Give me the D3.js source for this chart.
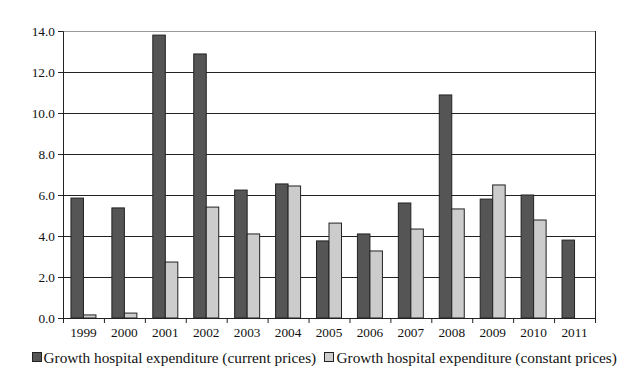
<!DOCTYPE html>
<html>
<head>
<meta charset="utf-8">
<script src="https://cdn.jsdelivr.net/npm/d3@7"></script>
<style>
  body { margin: 0; background: #fff; }
  svg, svg text { font-family: "Liberation Serif", "Times New Roman", serif; }
</style>
</head>
<body>
<div id="chart"></div>
<script>
// growth of hospital expenditure, per year
const years = ["1999", "2000", "2001", "2002", "2003", "2004", "2005", "2006", "2007", "2008", "2009", "2010", "2011"];
const currentPrices = [5.85, 5.37, 13.8, 12.88, 6.24, 6.54, 3.76, 4.1, 5.61, 10.88, 5.8, 6.0, 3.8];
const constantPrices = [0.15, 0.24, 2.73, 5.41, 4.1, 6.44, 4.63, 3.27, 4.34, 5.32, 6.49, 4.78, null];
const yTicks = [0, 2, 4, 6, 8, 10, 12, 14];
const seriesNames = ["Growth hospital expenditure (current prices)", "Growth hospital expenditure (constant prices)"];

const W = 626, H = 375;
const margin = { top: 31, right: 31, bottom: 57, left: 63 };
const width = W - margin.left - margin.right;
const height = H - margin.top - margin.bottom;
const FONT = "'Liberation Serif', 'Times New Roman', serif";

const svg = d3.select("#chart").append("svg")
  .attr("width", W).attr("height", H)
  .attr("font-family", FONT);
const g = svg.append("g").attr("transform", `translate(${margin.left},${margin.top})`);

const x = d3.scaleBand().domain(years).range([0, width]);
const x1 = d3.scaleBand().domain([0, 1]).range([0, 25]);
const y = d3.scaleLinear().domain([0, 14]).range([height, 0]);

// gridlines
g.selectAll(".grid")
  .data(yTicks.filter(d => d > 0))
  .join("line")
  .attr("x1", 0).attr("x2", width)
  .attr("y1", d => Math.round(y(d)) + 0.5).attr("y2", d => Math.round(y(d)) + 0.5)
  .attr("stroke", d => d === 14 ? "#999" : "#222")
  .attr("stroke-width", 1);

// right border
g.append("line")
  .attr("x1", width + 0.5).attr("x2", width + 0.5)
  .attr("y1", y(14)).attr("y2", height)
  .attr("stroke", "#222");

const offset = (x.bandwidth() - 25) / 2;
const series = [
  { vals: currentPrices, fill: "#555555" },
  { vals: constantPrices, fill: "#cccccc" }
];
series.forEach((s, i) => {
  g.selectAll(".bar" + i)
    .data(years.map((yr, k) => ({ yr, v: s.vals[k] })).filter(d => d.v != null))
    .join("rect")
    .attr("x", d => x(d.yr) + offset + x1(i))
    .attr("y", d => y(d.v))
    .attr("width", x1.bandwidth())
    .attr("height", d => height - y(d.v))
    .attr("fill", s.fill)
    .attr("stroke", "#222")
    .attr("stroke-width", 1);
});

// y axis
const yAxis = g.append("g")
  .call(d3.axisLeft(y).tickValues(yTicks).tickFormat(d3.format(".1f")).tickSize(5).tickPadding(3))
  .attr("font-family", FONT);
yAxis.select(".domain").attr("stroke", "#222");
yAxis.selectAll(".tick line").attr("stroke", "#222");
yAxis.selectAll("text").attr("font-size", 13.3).attr("fill", "#111");

// x axis: ticks at band boundaries
const xAxis = g.append("g").attr("transform", `translate(0,${height})`);
xAxis.append("line")
  .attr("x1", 0).attr("x2", width).attr("y1", 0.5).attr("y2", 0.5)
  .attr("stroke", "#222");
xAxis.selectAll(".xt")
  .data(years.concat(["end"]))
  .join("line")
  .attr("x1", (d, k) => k < years.length ? x(d) + 0.5 : width + 0.5)
  .attr("x2", (d, k) => k < years.length ? x(d) + 0.5 : width + 0.5)
  .attr("y1", 0).attr("y2", 5)
  .attr("stroke", "#222");
xAxis.selectAll(".xl")
  .data(years)
  .join("text")
  .attr("x", d => x(d) + x.bandwidth() / 2)
  .attr("y", 19)
  .attr("text-anchor", "middle")
  .attr("font-size", 13.3)
  .attr("fill", "#111")
  .text(d => d);

// legend
const legend = svg.append("g").attr("transform", "translate(0,363)");
const legX = [32, 324];
seriesNames.forEach((name, i) => {
  legend.append("rect")
    .attr("x", legX[i] + 0.5).attr("y", -10.5)
    .attr("width", 9).attr("height", 9)
    .attr("fill", series[i].fill).attr("stroke", "#222");
  legend.append("text")
    .attr("x", legX[i] + 11.5 + (i ? 1 : 0)).attr("y", 0)
    .attr("font-size", 15.3)
    .attr("fill", "#111")
    .text(name);
});
</script>
</body>
</html>
